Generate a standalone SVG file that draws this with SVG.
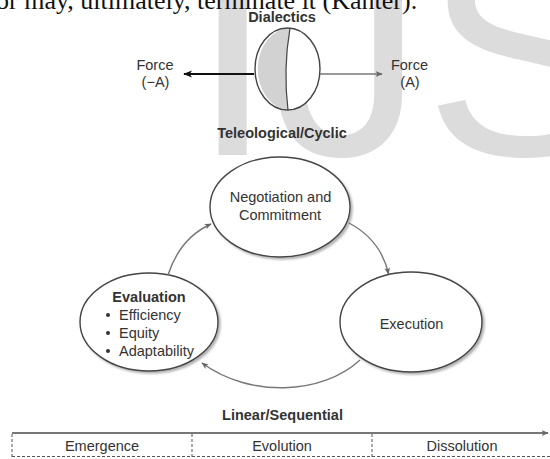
<svg xmlns="http://www.w3.org/2000/svg" width="550" height="459" viewBox="0 0 550 459">
<style>
.lbl{font-family:"Liberation Sans",Arial,sans-serif;font-size:14.5px;fill:#333;text-anchor:middle}
.ttl{font-family:"Liberation Sans",Arial,sans-serif;font-size:14.5px;font-weight:bold;fill:#333;text-anchor:middle}
.node{fill:#fff;stroke:#444;stroke-width:1.4}
.conn{fill:none;stroke:#777;stroke-width:1.4}
.dash{stroke:#555;stroke-width:1;stroke-dasharray:3 2;fill:none}
</style>
<defs>
<marker id="ag" viewBox="0 0 10 10" refX="9" refY="5" markerWidth="7" markerHeight="7" orient="auto" markerUnits="userSpaceOnUse">
<path d="M0,1 L10,5 L0,9 L2.5,5 Z" fill="#666"/>
</marker>
<marker id="ab" viewBox="0 0 10 10" refX="9" refY="5" markerWidth="9" markerHeight="9" orient="auto" markerUnits="userSpaceOnUse">
<path d="M0,1 L10,5 L0,9 L2.5,5 Z" fill="#111"/>
</marker>
<filter id="sh" x="-10%" y="-10%" width="125%" height="125%">
<feDropShadow dx="2" dy="2" stdDeviation="1.2" flood-color="#000" flood-opacity="0.3"/>
</filter>
</defs>

<text x="191" y="155" font-family="Liberation Sans,Arial,sans-serif" font-size="300" fill="#dcdcdc">IJS</text>

<text x="-4" y="8.5" font-family="Liberation Serif,Times New Roman,serif" font-size="26" fill="#111">or may, ultimately, terminate it (Kanter).</text>

<g id="dialectics">
<text class="ttl" x="282" y="22">Dialectics</text>
<ellipse cx="287.5" cy="69" rx="32.5" ry="41" fill="#fff"/>
<path d="M290,28.1 A32.5,41 0 0 0 288,110 Q283,69 290,28.1 Z" fill="#d2d2d2"/>
<ellipse cx="287.5" cy="69" rx="32.5" ry="41" fill="none" stroke="#444" stroke-width="1.4"/>
<path d="M290,28.1 Q283,69 288,110" fill="none" stroke="#444" stroke-width="1.2"/>
</g>
<g id="force-neg">
<text class="lbl" x="155" y="69.5">Force</text>
<text class="lbl" x="155.5" y="87">(−A)</text>
</g>
<g id="force-pos">
<text class="lbl" x="409.5" y="69.5">Force</text>
<text class="lbl" x="410" y="87">(A)</text>
</g>

<text class="ttl" x="282" y="138">Teleological/Cyclic</text>

<g id="negotiation">
<ellipse class="node" cx="280" cy="207" rx="70" ry="50" filter="url(#sh)"/>
<text class="lbl" x="280.5" y="201.5">Negotiation and</text>
<text class="lbl" x="280" y="220">Commitment</text>
</g>
<g id="evaluation">
<ellipse class="node" cx="149" cy="322" rx="69" ry="49" filter="url(#sh)"/>
<text class="ttl" x="149" y="302">Evaluation</text>
<circle cx="108" cy="315" r="2" fill="#333"/>
<circle cx="108" cy="333" r="2" fill="#333"/>
<circle cx="108" cy="351" r="2" fill="#333"/>
<text class="lbl" x="119" y="319.5" text-anchor="start" style="text-anchor:start">Efficiency</text>
<text class="lbl" x="119" y="337.5" style="text-anchor:start">Equity</text>
<text class="lbl" x="119" y="355.5" style="text-anchor:start">Adaptability</text>
</g>
<g id="execution">
<ellipse class="node" cx="411" cy="322" rx="71" ry="50" filter="url(#sh)"/>
<text class="lbl" x="411.5" y="329">Execution</text>
</g>

<g id="connectors">
<line x1="254" y1="74" x2="184" y2="74" stroke="#111" stroke-width="2" marker-end="url(#ab)"/>
<line x1="320" y1="74" x2="382" y2="74" stroke="#777" stroke-width="1.4" marker-end="url(#ag)"/>
<path class="conn" d="M168,275 Q180,238 211,224" marker-end="url(#ag)"/>
<path class="conn" d="M349,223 Q381,240 388.5,274" marker-end="url(#ag)"/>
<path class="conn" d="M360,360 C322,395 250,398 202,363" marker-end="url(#ag)"/>
</g>

<g id="timeline">
<text class="ttl" x="282.5" y="420">Linear/Sequential</text>
<line x1="12" y1="433" x2="548" y2="433" stroke="#777" stroke-width="2" marker-end="url(#ag)"/>
<line class="dash" x1="12" y1="434" x2="12" y2="459"/>
<line class="dash" x1="192" y1="434" x2="192" y2="459"/>
<line class="dash" x1="372" y1="434" x2="372" y2="459"/>
<line class="dash" x1="12" y1="456.5" x2="550" y2="456.5" stroke="#aaa"/>
<text class="lbl" x="102" y="451">Emergence</text>
<text class="lbl" x="282" y="451">Evolution</text>
<text class="lbl" x="462" y="451">Dissolution</text>
</g>
</svg>
